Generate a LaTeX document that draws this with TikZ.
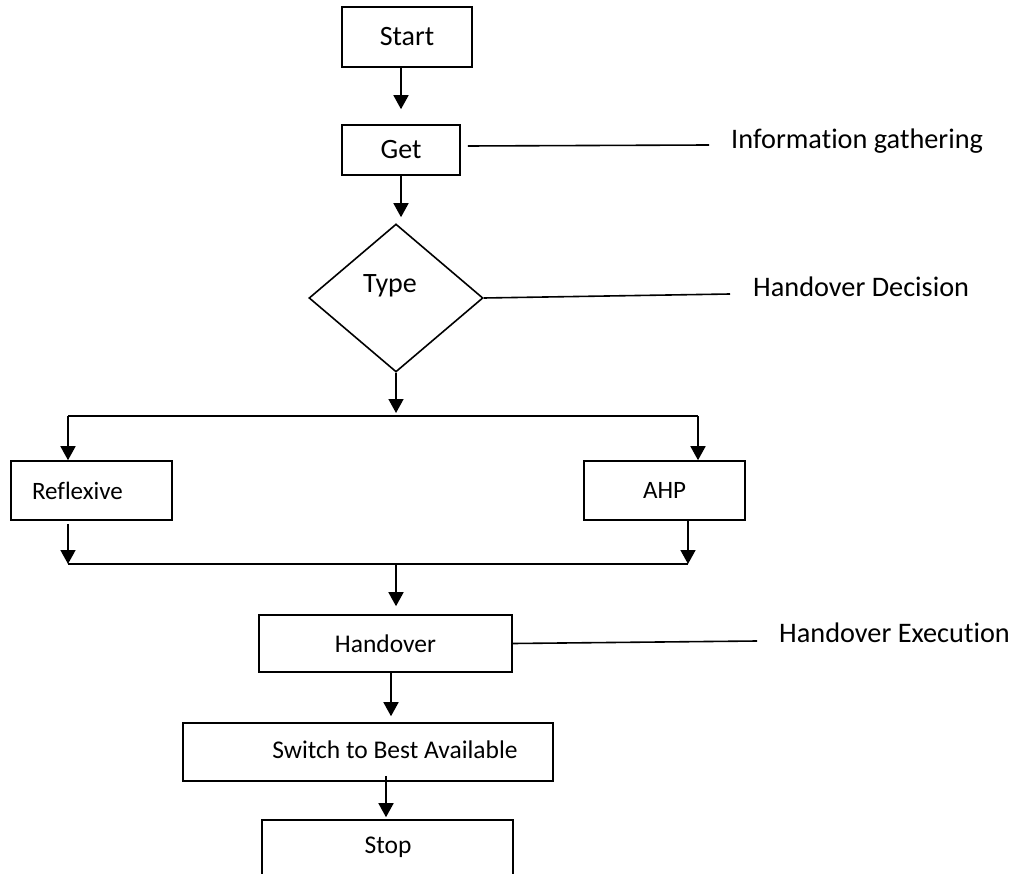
\documentclass[tikz,border=0pt]{standalone}
\usepackage{fontspec}
\setmainfont[Ligatures=NoCommon]{Carlito}
\usetikzlibrary{shapes.geometric,arrows.meta}
\begin{document}
\begin{tikzpicture}[x=1pt,y=-1pt,
  box/.style={draw, line width=1.6pt, inner sep=0pt},
  bigtxt/.style={font=\fontsize{28}{32}\selectfont},
  midtxt/.style={font=\fontsize{25.5}{30}\selectfont},
  smltxt/.style={font=\fontsize{25}{28}\selectfont},
  sidetxt/.style={font=\fontsize{28.3}{34}\selectfont, anchor=west, inner sep=0pt},
  arr/.style={line width=1.6pt, -{Triangle[width=15pt,length=14pt]}},
  ln/.style={line width=1.6pt}]
\useasboundingbox (0,0) rectangle (1014,874);
\clip (0,0) rectangle (1014,874);

% nodes
\node[box, bigtxt, minimum width=130pt, minimum height=60pt] (start) at (407,37) {Start};
\node[box, bigtxt, minimum width=118pt, minimum height=50pt] (get) at (401,150) {Get};
\node[draw, line width=1.6pt, shape=diamond, inner sep=0pt, minimum width=174pt, minimum height=148pt] (type) at (396,298) {};
\node[bigtxt, inner sep=0pt] (typetxt) at (390,286) {Type};
\node[box, smltxt, minimum height=59pt, text width=119pt, inner xsep=21pt, align=left] (refl) at (91.5,490.5) {Reflexive};
\node[box, smltxt, minimum width=161pt, minimum height=59pt] (ahp) at (664.5,490.5) {AHP};
\node[box, midtxt, minimum width=253pt, minimum height=57pt] (hand) at (385.5,643.5) {Handover};
\node[box, minimum width=370pt, minimum height=58pt] (switch) at (368,752) {};
\node[midtxt, inner sep=0pt] (switchtxt) at (395,750) {Switch to Best Available};
\node[box, midtxt, minimum width=251pt, minimum height=64pt] (stop) at (387.5,852) {};
\node[midtxt, inner sep=0pt] (stoptxt) at (388,847) {Stop};

% side labels
\node[sidetxt] (info) at (731,141) {Information gathering};
\node[sidetxt] (dec) at (753,287) {Handover Decision};
\node[sidetxt] (exe) at (779,633) {Handover Execution};

% coordinates
\coordinate (split) at (396,416);
\coordinate (splitL) at (68,416);
\coordinate (splitR) at (698,416);
\coordinate (merge) at (396,564);
\coordinate (mergeL) at (68,564);
\coordinate (mergeR) at (688,564);
\coordinate (infoL) at (709,145);
\coordinate (decL) at (730,294);
\coordinate (exeL) at (757,641);

% main flow
\draw[arr, shorten >=15pt] (get.north |- start.south) -- (get.north);
\draw[arr, shorten >=6pt] (get.south) -- (get.south |- type.north);
\draw[arr, shorten >=3pt] (type.south) -- (split);
\draw[ln] (splitL) -- (splitR);
\draw[arr] (splitL) -- (refl.north -| splitL);
\draw[arr] (splitR) -- (ahp.north -| splitR);
\draw[arr, shorten <=3pt] (refl.south -| mergeL) -- (mergeL);
\draw[arr] (ahp.south -| mergeR) -- (mergeR);
\draw[ln] (mergeL) -- (mergeR);
\draw[arr, shorten >=8pt] (merge) -- (hand.north -| merge);
\draw[arr, shorten >=6pt] ([xshift=5.5pt]hand.south) -- ([xshift=5.5pt]hand.south |- switch.north);
\draw[arr, shorten <=-6pt, shorten >=2pt] ([xshift=18pt]switch.south) -- ([xshift=18pt]switch.south |- stop.north);

% side connectors
\draw[ln] ([xshift=7pt,yshift=4pt]get.east) -- (infoL);
\draw[ln] (type.east) -- (decL);
\draw[ln] (hand.east) -- (exeL);
\end{tikzpicture}
\end{document}
